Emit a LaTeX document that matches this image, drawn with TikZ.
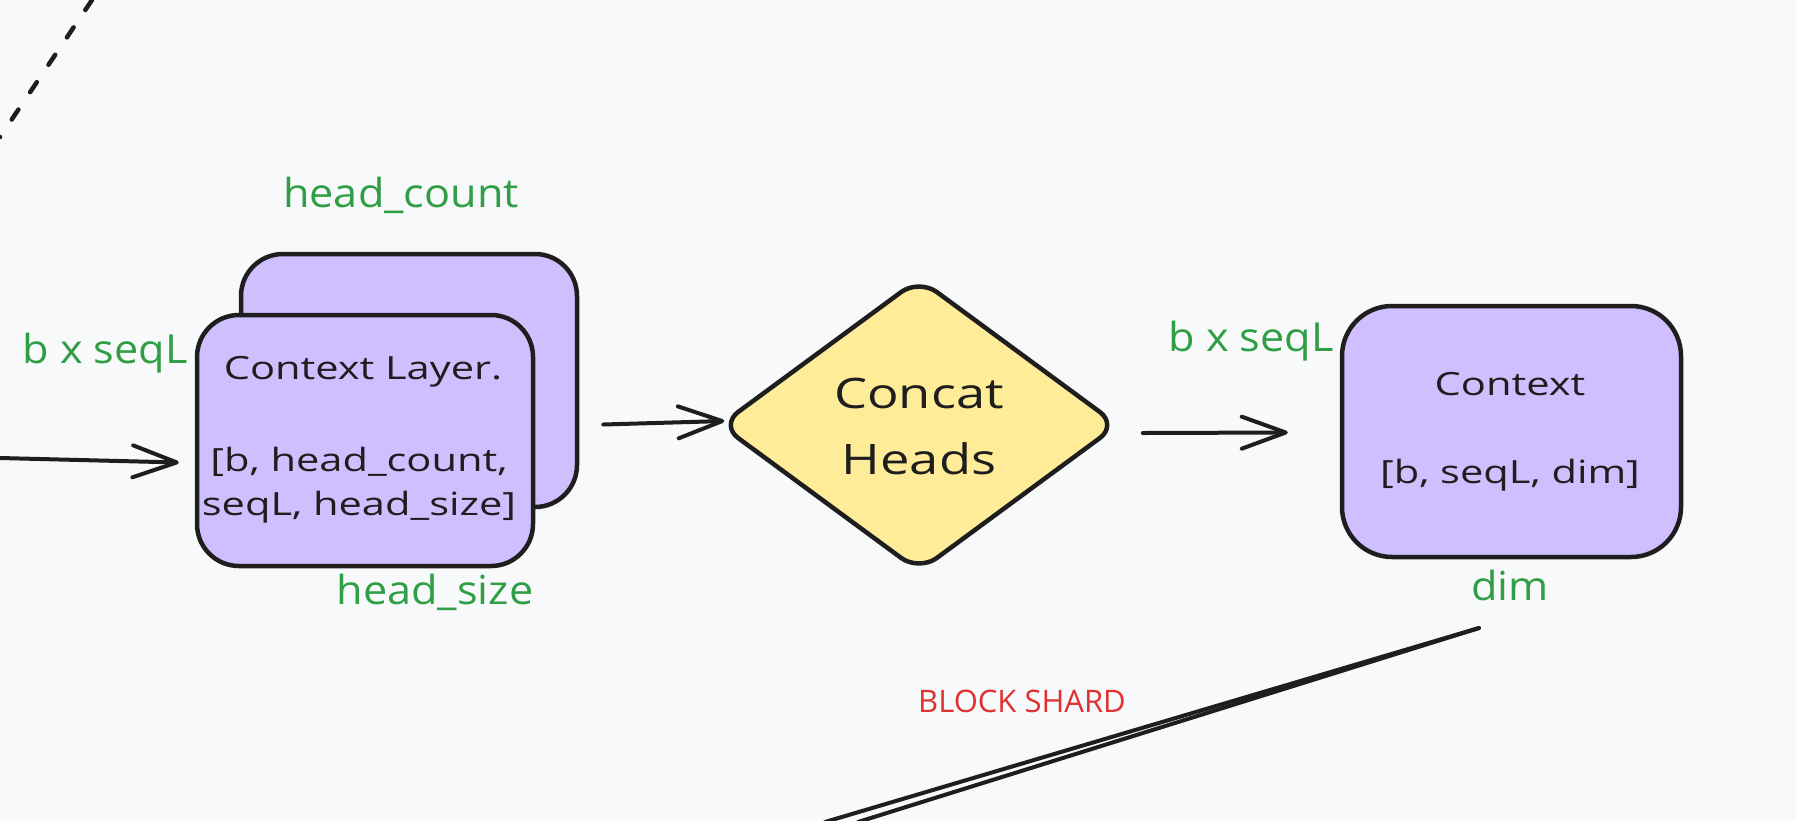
\documentclass[tikz,border=0pt]{standalone}
\usepackage{fontspec}
\setmainfont{Open Sans}
\newfontfamily\boxfont[FakeStretch=1.3]{Open Sans}
\newfontfamily\bigfont[FakeStretch=1.25]{Open Sans}
\newfontfamily\labelfont[FakeStretch=1.08]{Open Sans}
\usetikzlibrary{arrows.meta,shapes.geometric}
\definecolor{bg}{HTML}{F8F9FA}
\definecolor{ink}{HTML}{1E1E1E}
\definecolor{violetfill}{HTML}{D0BFFF}
\definecolor{yellowfill}{HTML}{FFEC99}
\definecolor{labelgreen}{HTML}{2F9E44}
\definecolor{labelred}{HTML}{E03131}
\tikzset{
  box/.style={draw=ink, fill=violetfill, line width=4.5pt, rounded corners=42pt, inner sep=0pt},
  decision/.style={draw=ink, fill=yellowfill, line width=4.5pt, diamond, rounded corners=22pt, inner sep=0pt, shape aspect=1.36},
  arr/.style={draw=ink, line width=4pt, line cap=round, -{Straight Barb[length=44pt,width=32pt,round]}},
  plainline/.style={draw=ink, line width=4pt, line cap=round},
  dimlabel/.style={text=labelgreen, font=\labelfont\fontsize{40}{46}\selectfont, inner sep=0pt},
  boxtext/.style={text=ink, font=\boxfont\fontsize{32}{38}\selectfont, inner sep=0pt},
  bigtext/.style={text=ink, font=\bigfont\fontsize{42}{48}\selectfont, inner sep=0pt},
  shardtext/.style={text=labelred, font=\fontsize{31}{36}\selectfont, inner sep=0pt}
}
\begin{document}
\begin{tikzpicture}[x=1pt,y=-1pt]
\fill[bg] (0,0) rectangle (1796,820);
\useasboundingbox (0,0) rectangle (1796,820);
% dashed line top-left
\draw[ink, line width=4.5pt, line cap=round, dash pattern=on 12pt off 21pt] (92,0) -- (0,137);
% stacked boxes
\node[box, minimum width=336pt, minimum height=253pt] (back) at (409,380.5) {};
\node[box, minimum width=336pt, minimum height=251pt] (front) at (365,440.5) {};
\node[boxtext] (t1) at (363,372) {Context Layer.};
\node[boxtext] (t2) at (359,462) {[b, head\_count,};
\node[boxtext] (t3) at (359,507) {seqL, head\_size]};
\node[dimlabel] (hc) at (401,195) {head\_count};
\node[dimlabel] (bs1) at (105,353) {b x seqL};
\node[dimlabel] (hs) at (435,592) {head\_size};
% concat diamond
\node[decision, minimum width=399pt, minimum height=294pt] (concat) at (919,425) {};
\node[bigtext] (c1) at (919,393) {Concat};
\node[bigtext] (c2) at (919,459) {Heads};
% context box
\node[box, rounded corners=50pt, minimum width=339pt, minimum height=251pt] (ctx) at (1511.5,431.5) {};
\node[boxtext] (t4) at (1510,384) {Context};
\node[boxtext] (t5) at (1510,475) {[b, seqL, dim]};
\node[dimlabel] (bs2) at (1251,341) {b x seqL};
\node[dimlabel] (dm) at (1510,585) {dim};
% arrows
\coordinate (in) at (0,458);
\draw[arr] (in) -- ([shift={(-16,22)}]front.west);
\draw[arr] ([shift={(68,-16)}]front.east) -- ([shift={(7,-4)}]concat.west);
\draw[arr] ([shift={(22,8)}]concat.east) -- ([shift={(-52,1)}]ctx.west);
% block shard lines
\coordinate (s0) at (1479,628);
\coordinate (s1) at (825,822);
\coordinate (s2) at (858,822);
\draw[plainline] (s0) -- (s1);
\draw[plainline] (s0) -- (s2);
\node[shardtext] (shard) at (1022,701) {BLOCK SHARD};
\end{tikzpicture}
\end{document}
